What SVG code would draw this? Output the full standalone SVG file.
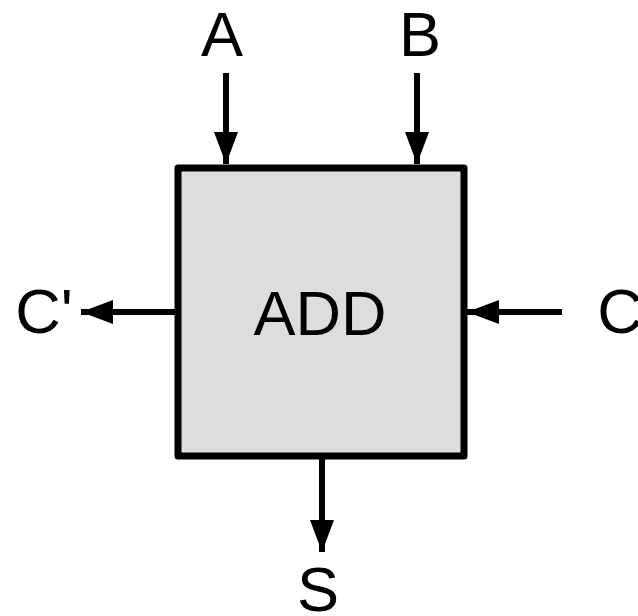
<svg xmlns="http://www.w3.org/2000/svg" width="638" height="616" viewBox="0 0 638 616">
<style>
.lbl{font-family:"Liberation Sans",Arial,sans-serif;font-size:63px;fill:#000;text-anchor:middle}
.wire{stroke:#000;stroke-width:6;fill:none}
</style>
<defs>
<marker id="ah" markerUnits="userSpaceOnUse" markerWidth="32" markerHeight="24" refX="32" refY="12" orient="auto">
<path d="M0,0 L32,12 L0,24 Z" fill="#000"/>
</marker>
</defs>
<rect width="638" height="616" fill="#fff"/>
<g id="connectors">
<line class="wire" x1="226" y1="73" x2="226" y2="164" marker-end="url(#ah)"/>
<line class="wire" x1="417" y1="73" x2="417" y2="164" marker-end="url(#ah)"/>
<line class="wire" x1="175" y1="312" x2="81" y2="312" marker-end="url(#ah)"/>
<line class="wire" x1="562" y1="312" x2="467" y2="312" marker-end="url(#ah)"/>
<line class="wire" x1="322" y1="459" x2="322" y2="552" marker-end="url(#ah)"/>
</g>
<g id="add">
<rect x="178" y="168" width="286" height="288" fill="#dddddd" stroke="#000" stroke-width="7" stroke-linejoin="round"/>
<text class="lbl" x="320" y="335">ADD</text>
</g>
<g id="A"><text class="lbl" x="222" y="56">A</text></g>
<g id="B"><text class="lbl" x="420" y="56">B</text></g>
<g id="Cp"><text class="lbl" x="44" y="333">C'</text></g>
<g id="C"><text class="lbl" x="620" y="333">C</text></g>
<g id="S"><text class="lbl" x="318" y="611">S</text></g>
</svg>
